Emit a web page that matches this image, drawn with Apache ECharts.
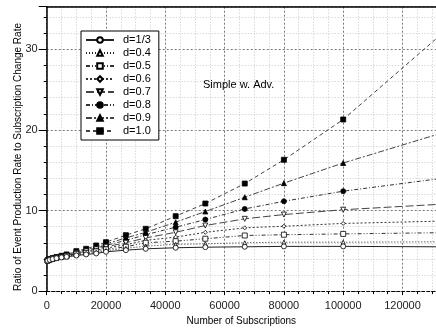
<!DOCTYPE html>
<html>
<head>
<meta charset="utf-8">
<script src="https://cdn.jsdelivr.net/npm/echarts@6/dist/echarts.min.js"></script>
<style>
html,body{margin:0;padding:0;background:#fff;}
#c{width:436px;height:331px;}
</style>
</head>
<body>
<div id="c"></div>
<script>
// Number of subscriptions (x); last point is the unmarked continuation to the right edge
const subscriptions = [300, 1000, 2000, 3300, 5000, 6700, 10000, 13300, 16700, 20000, 26700, 33400, 43500, 53500, 66800, 80000, 100000, 131300];

const d_1_3 = [3.78, 3.88, 3.98, 4.08, 4.18, 4.25, 4.42, 4.55, 4.67, 4.88, 5.08, 5.25, 5.38, 5.45, 5.5, 5.55, 5.55, 5.5];
const d_0_4 = [3.79, 3.89, 4.0, 4.1, 4.2, 4.3, 4.5, 4.65, 4.8, 5.03, 5.3, 5.58, 5.8, 5.87, 6.0, 6.07, 6.07, 6.12];
const d_0_5 = [3.79, 3.9, 4.01, 4.12, 4.23, 4.34, 4.58, 4.75, 4.93, 5.18, 5.5, 6.0, 6.2, 6.5, 6.9, 7.0, 7.1, 7.24];
const d_0_6 = [3.8, 3.91, 4.02, 4.14, 4.26, 4.38, 4.65, 4.85, 5.07, 5.33, 5.75, 6.3, 6.7, 7.3, 7.85, 8.05, 8.4, 8.67];
const d_0_7 = [3.8, 3.92, 4.03, 4.16, 4.29, 4.42, 4.72, 4.95, 5.2, 5.5, 6.0, 6.6, 7.3, 8.14, 8.97, 9.5, 10.1, 10.75];
const d_0_8 = [3.81, 3.93, 4.05, 4.18, 4.32, 4.46, 4.8, 5.05, 5.35, 5.67, 6.3, 7.0, 7.93, 8.88, 10.2, 11.15, 12.4, 13.9];
const d_0_9 = [3.81, 3.94, 4.06, 4.2, 4.35, 4.5, 4.88, 5.15, 5.5, 5.85, 6.6, 7.3, 8.55, 9.88, 11.65, 13.4, 15.9, 19.4];
const d_1_0 = [3.82, 3.95, 4.08, 4.22, 4.38, 4.55, 4.96, 5.25, 5.66, 6.07, 6.94, 7.73, 9.3, 10.87, 13.35, 16.3, 21.3, 31.3];

const seriesNames = ['d=1/3', 'd=0.4', 'd=0.5', 'd=0.6', 'd=0.7', 'd=0.8', 'd=0.9', 'd=1.0'];
const seriesValues = [d_1_3, d_0_4, d_0_5, d_0_6, d_0_7, d_0_8, d_0_9, d_1_0];

const xTickInterval = 20000;
const yTickInterval = 10;

const invTri = 'path://M0,0 L10,0 L5,9 Z';
const styles = [
  {sym: 'circle', size: 5, fill: '#fff', dash: 'solid', color: '#222'},
  {sym: 'triangle', size: 4, fill: '#fff', dash: [1, 2], color: '#222'},
  {sym: 'rect', size: 5, fill: '#fff', dash: [4, 2, 1, 2, 1, 2], color: '#333'},
  {sym: 'diamond', size: 4, fill: '#fff', dash: [2, 2], color: '#333'},
  {sym: invTri, size: 5, fill: '#fff', dash: [8, 3], color: '#444'},
  {sym: 'circle', size: 5, fill: '#000', dash: [4, 2, 1, 2], color: '#333'},
  {sym: 'triangle', size: 5, fill: '#000', dash: [6, 2, 2, 2], color: '#444'},
  {sym: 'rect', size: 5, fill: '#000', dash: [4, 3], color: '#444'}
];

const lastIdx = subscriptions.length - 1;
const series = seriesNames.map((name, i) => {
  const st = styles[i];
  return {
    name: name,
    type: 'line',
    data: subscriptions.map((x, k) => k === lastIdx
      ? {value: [x, seriesValues[i][k]], symbol: 'none'}
      : [x, seriesValues[i][k]]),
    symbol: st.sym,
    symbolSize: st.size,
    showAllSymbol: true,
    itemStyle: {color: st.fill, borderColor: '#000', borderWidth: 0.8},
    lineStyle: {color: st.color, width: 1, type: st.dash},
    emphasis: {disabled: true},
    animation: false,
    z: 10 - i
  };
});

const chart = echarts.init(document.getElementById('c'), null, {renderer: 'canvas'});
chart.setOption({
  animation: false,
  textStyle: {fontFamily: 'Liberation Sans, Arial, sans-serif'},
  grid: {left: 46.7, right: 0, top: 6.7, bottom: 39.3, containLabel: false},
  legend: {
    orient: 'vertical',
    left: 81,
    top: 31,
    width: 71,
    padding: [3, 8, 3, 4],
    itemWidth: 28,
    itemHeight: 7,
    itemGap: 1,
    borderColor: '#000',
    borderWidth: 1,
    backgroundColor: '#fff',
    textStyle: {fontSize: 11, color: '#000', lineHeight: 12, padding: [0, 0, 0, 4]},
    data: seriesNames,
    z: 20
  },
  xAxis: [{
    type: 'value',
    min: 0,
    max: 131300,
    interval: xTickInterval,
    name: 'Number of Subscriptions',
    nameLocation: 'middle',
    nameGap: 24,
    nameTextStyle: {fontSize: 10, color: '#000'},
    axisLine: {show: true, onZero: false, lineStyle: {color: '#000', width: 1, type: [3, 2]}},
    axisTick: {show: true, inside: false, length: 4, lineStyle: {color: '#000'}},
    minorTick: {show: true, splitNumber: 4, length: 3, lineStyle: {color: '#000'}},
    axisLabel: {fontSize: 11, color: '#222', margin: 9, showMaxLabel: false, formatter: v => String(v)},
    splitLine: {show: true, lineStyle: {color: '#777', type: [2, 2], width: 1}},
    minorSplitLine: {show: true, lineStyle: {color: '#c8c8c8', type: [1, 2], width: 1}}
  }, {
    type: 'value',
    position: 'top',
    min: 0,
    max: 131300,
    axisLine: {show: true, onZero: false, lineStyle: {color: '#000', width: 1.5}},
    axisTick: {show: false},
    axisLabel: {show: false},
    splitLine: {show: false}
  }],
  yAxis: {
    type: 'value',
    min: 0,
    max: 35.3,
    interval: yTickInterval,
    axisLine: {show: true, onZero: false, lineStyle: {color: '#000', width: 1.5}},
    axisTick: {show: true, inside: false, length: 8, lineStyle: {color: '#000'}},
    minorTick: {show: true, splitNumber: 5, length: 3, lineStyle: {color: '#000'}},
    axisLabel: {fontSize: 11, color: '#222', margin: 9, showMaxLabel: false, formatter: v => String(v)},
    splitLine: {show: true, lineStyle: {color: '#777', type: [2, 2], width: 1}},
    minorSplitLine: {show: true, lineStyle: {color: '#c8c8c8', type: [1, 2], width: 1}}
  },
  graphic: [{
    type: 'text',
    left: 203,
    top: 79,
    style: {text: 'Simple w. Adv.', font: '11px Liberation Sans, Arial, sans-serif', fill: '#000'},
    z: 30
  }, {
    type: 'text',
    x: 18,
    y: 157,
    rotation: Math.PI / 2,
    style: {
      text: 'Ratio of Event Production Rate to Subscription Change Rate',
      font: '10px Liberation Sans, Arial, sans-serif',
      fill: '#000',
      align: 'center',
      verticalAlign: 'middle'
    },
    z: 30
  }],
  series: series
});
</script>
</body>
</html>
